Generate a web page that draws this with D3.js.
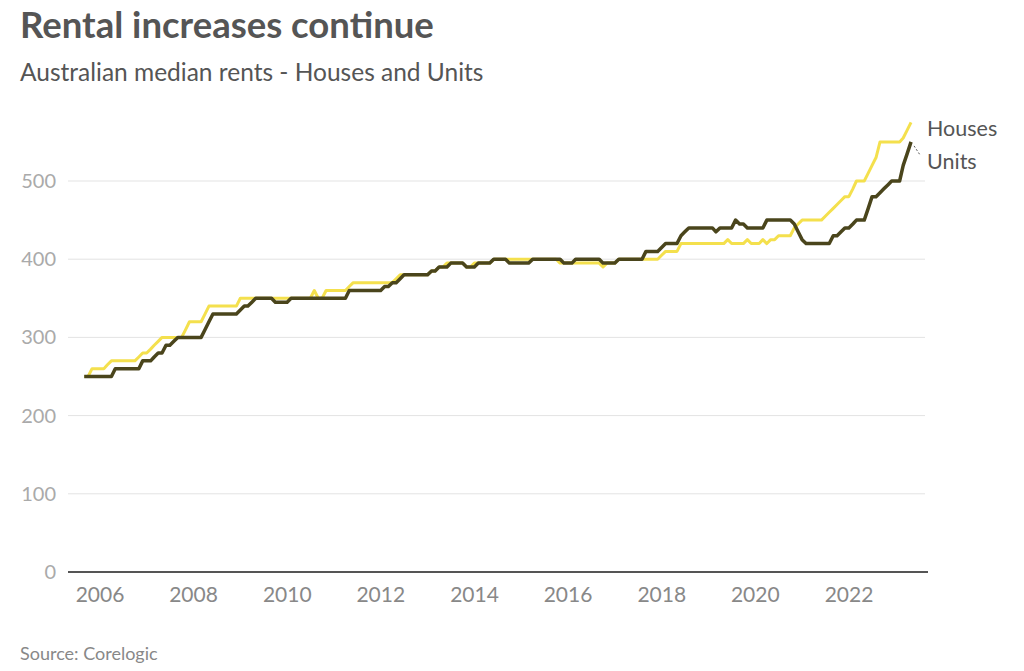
<!DOCTYPE html>
<html>
<head>
<meta charset="utf-8">
<script src="https://cdn.jsdelivr.net/npm/d3@7"></script>
<style>
  body { margin: 0; background: #fff; }
  text { font-family: Lato, "Open Sans", sans-serif; }
</style>
</head>
<body>
<svg id="chart" width="1024" height="671"></svg>
<script>
// Monthly median rents ($/week), first month Aug 2005, last month Apr 2023
var firstMonth = new Date(2005, 7, 1);

var houses = [
  250, 250, 260, 260, 260,                                   // 2005 Aug-Dec
  260, 265, 270, 270, 270, 270, 270, 270, 270, 275, 280, 280, // 2006
  285, 290, 295, 300, 300, 300, 300, 300, 300, 310, 320, 320, // 2007
  320, 320, 330, 340, 340, 340, 340, 340, 340, 340, 340, 350, // 2008
  350, 350, 350, 350, 350, 350, 350, 350, 350, 350, 350, 350, // 2009
  350, 350, 350, 350, 350, 350, 360, 350, 350, 360, 360, 360, // 2010
  360, 360, 360, 365, 370, 370, 370, 370, 370, 370, 370, 370, // 2011
  370, 370, 370, 375, 380, 380, 380, 380, 380, 380, 380, 380, // 2012
  385, 385, 390, 390, 395, 395, 395, 395, 395, 390, 390, 395, // 2013
  395, 395, 395, 395, 400, 400, 400, 400, 400, 400, 400, 400, // 2014
  400, 400, 400, 400, 400, 400, 400, 400, 400, 395, 395, 395, // 2015
  395, 395, 395, 395, 395, 395, 395, 395, 390, 395, 395, 395, // 2016
  400, 400, 400, 400, 400, 400, 400, 400, 400, 400, 400, 405, // 2017
  410, 410, 410, 410, 420, 420, 420, 420, 420, 420, 420, 420, // 2018
  420, 420, 420, 420, 425, 420, 420, 420, 420, 425, 420, 420, // 2019
  420, 425, 420, 425, 425, 430, 430, 430, 430, 440, 445, 450, // 2020
  450, 450, 450, 450, 450, 455, 460, 465, 470, 475, 480, 480, // 2021
  490, 500, 500, 500, 510, 520, 530, 550, 550, 550, 550, 550, // 2022
  550, 555, 565, 575                                         // 2023 Jan-Apr
];

var units = [
  250, 250, 250, 250, 250,                                   // 2005 Aug-Dec
  250, 250, 250, 260, 260, 260, 260, 260, 260, 260, 270, 270, // 2006
  270, 275, 280, 280, 290, 290, 295, 300, 300, 300, 300, 300, // 2007
  300, 300, 310, 320, 330, 330, 330, 330, 330, 330, 330, 335, // 2008
  340, 340, 345, 350, 350, 350, 350, 350, 345, 345, 345, 345, // 2009
  350, 350, 350, 350, 350, 350, 350, 350, 350, 350, 350, 350, // 2010
  350, 350, 350, 360, 360, 360, 360, 360, 360, 360, 360, 360, // 2011
  365, 365, 370, 370, 375, 380, 380, 380, 380, 380, 380, 380, // 2012
  385, 385, 390, 390, 390, 395, 395, 395, 395, 390, 390, 390, // 2013
  395, 395, 395, 395, 400, 400, 400, 400, 395, 395, 395, 395, // 2014
  395, 395, 400, 400, 400, 400, 400, 400, 400, 400, 395, 395, // 2015
  395, 400, 400, 400, 400, 400, 400, 400, 395, 395, 395, 395, // 2016
  400, 400, 400, 400, 400, 400, 400, 410, 410, 410, 410, 415, // 2017
  420, 420, 420, 420, 430, 435, 440, 440, 440, 440, 440, 440, // 2018
  440, 435, 440, 440, 440, 440, 450, 445, 445, 440, 440, 440, // 2019
  440, 440, 450, 450, 450, 450, 450, 450, 450, 445, 435, 425, // 2020
  420, 420, 420, 420, 420, 420, 420, 430, 430, 435, 440, 440, // 2021
  445, 450, 450, 450, 465, 480, 480, 485, 490, 495, 500, 500, // 2022
  500, 520, 535, 550                                         // 2023 Jan-Apr
];

var yTicks = [0, 100, 200, 300, 400, 500];
var xTickYears = [2006, 2008, 2010, 2012, 2014, 2016, 2018, 2020, 2022];
var seriesNames = ["Houses", "Units"];
var seriesColors = ["#f4e04d", "#4a451c"];

// month-end date of each observation
var dates = houses.map(function(v, i) {
  return d3.timeDay.offset(d3.timeMonth.offset(firstMonth, i + 1), -1);
});

var svg = d3.select("#chart");
var left = 68, right = 928, bottom = 572;

var x = d3.scaleTime()
  .domain([new Date(2006, 0, 1), new Date(2022, 0, 1)])
  .range([100, 849]);
var y = d3.scaleLinear()
  .domain([0, 500])
  .range([bottom, 181]);

// Titles
svg.append("text")
  .attr("x", 20).attr("y", 38)
  .attr("fill", "#555")
  .style("font-size", "36.5px").style("font-weight", "bold")
  .text("Rental increases continue");
svg.append("text")
  .attr("x", 20).attr("y", 81)
  .attr("fill", "#555")
  .style("font-size", "24.5px")
  .text("Australian median rents - Houses and Units");

// Grid lines and y labels
svg.append("g").selectAll("line")
  .data(yTicks.filter(function(d) { return d > 0; }))
  .enter().append("line")
  .attr("x1", left).attr("x2", 925)
  .attr("y1", function(d) { return y(d); })
  .attr("y2", function(d) { return y(d); })
  .attr("stroke", "#e3e3e3").attr("stroke-width", 1);

svg.append("g").selectAll("text")
  .data(yTicks)
  .enter().append("text")
  .attr("x", 56)
  .attr("y", function(d) { return y(d); })
  .attr("dy", "0.35em")
  .attr("text-anchor", "end")
  .attr("fill", "#aaa")
  .style("font-size", "20px")
  .text(function(d) { return d; });

// X labels
svg.append("g").selectAll("text")
  .data(xTickYears)
  .enter().append("text")
  .attr("x", function(d) { return x(new Date(d, 0, 1)); })
  .attr("y", 602)
  .attr("text-anchor", "middle")
  .attr("fill", "#888")
  .style("font-size", "21px")
  .text(function(d) { return d; });

// Lines
var line = d3.line()
  .x(function(d) { return x(d[0]); })
  .y(function(d) { return y(d[1]); });

[houses, units].forEach(function(vals, k) {
  svg.append("path")
    .datum(vals.map(function(v, i) { return [dates[i], v]; }))
    .attr("d", line)
    .attr("fill", "none")
    .attr("stroke", seriesColors[k])
    .attr("stroke-width", k === 0 ? 3 : 3.5)
    .attr("stroke-linejoin", "round");
});

// Baseline
svg.append("line")
  .attr("x1", left).attr("x2", right)
  .attr("y1", bottom).attr("y2", bottom)
  .attr("stroke", "#555").attr("stroke-width", 2);

// End labels
var lastDate = dates[dates.length - 1];
var hEnd = [x(lastDate), y(houses[houses.length - 1])];
var uEnd = [x(lastDate), y(units[units.length - 1])];

svg.append("text")
  .attr("x", 927).attr("y", hEnd[1] + 6)
  .attr("dy", "0.35em")
  .attr("fill", "#555")
  .style("font-size", "21.5px")
  .text(seriesNames[0]);

svg.append("line")
  .attr("x1", uEnd[0] + 3).attr("y1", uEnd[1] + 4)
  .attr("x2", 920).attr("y2", uEnd[1] + 13)
  .attr("stroke", "#555").attr("stroke-width", 1)
  .attr("stroke-dasharray", "2,2");

svg.append("text")
  .attr("x", 927).attr("y", uEnd[1] + 20)
  .attr("dy", "0.35em")
  .attr("fill", "#555")
  .style("font-size", "21.5px")
  .text(seriesNames[1]);

// Source
svg.append("text")
  .attr("x", 20).attr("y", 660)
  .attr("fill", "#888")
  .style("font-size", "18px")
  .text("Source: Corelogic");
</script>
</body>
</html>
